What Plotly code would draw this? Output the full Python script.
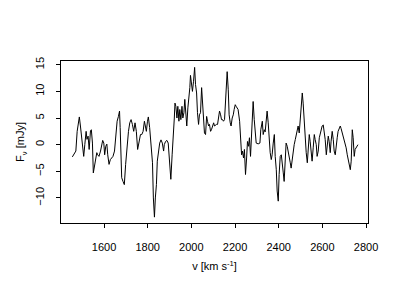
import plotly.graph_objects as go

velocity = [
    1455, 1464, 1471, 1477, 1483, 1487, 1492, 1497, 1501, 1507, 1512, 1518, 1522, 1527, 1532,
    1538, 1542, 1547, 1551, 1556, 1561, 1567, 1571, 1577, 1584, 1590, 1594, 1599, 1603, 1608,
    1613, 1617, 1623, 1629, 1635, 1641, 1648, 1654, 1660, 1666, 1671, 1674, 1677, 1681, 1687,
    1693, 1699, 1706, 1712, 1718, 1724, 1730, 1736, 1742, 1748, 1754, 1761, 1767, 1773, 1779,
    1785, 1790, 1794, 1799, 1803, 1809, 1815, 1822, 1826, 1831, 1835, 1840, 1844, 1849, 1855,
    1861, 1867, 1873, 1876, 1882, 1888, 1894, 1900, 1906, 1912, 1917, 1922, 1925, 1929, 1934,
    1938, 1943, 1947, 1952, 1957, 1961, 1966, 1970, 1975, 1979, 1984, 1989, 1993, 1996, 2001,
    2005, 2010, 2015, 2019, 2024, 2028, 2033, 2037, 2042, 2047, 2051, 2056, 2060, 2065, 2070,
    2074, 2079, 2083, 2088, 2092, 2097, 2102, 2106, 2111, 2115, 2120, 2124, 2129, 2134, 2138,
    2143, 2147, 2152, 2157, 2160, 2164, 2169, 2173, 2178, 2182, 2187, 2192, 2196, 2201, 2205,
    2210, 2214, 2221, 2225, 2230, 2234, 2239, 2243, 2248, 2253, 2257, 2262, 2266, 2271, 2276,
    2280, 2283, 2288, 2292, 2297, 2306, 2314, 2318, 2325, 2329, 2334, 2338, 2343, 2347, 2352,
    2357, 2361, 2366, 2370, 2375, 2380, 2384, 2389, 2393, 2398, 2402, 2407, 2412, 2416, 2421,
    2425, 2430, 2434, 2439, 2444, 2448, 2453, 2457, 2462, 2466, 2471, 2476, 2480, 2485, 2489,
    2494, 2499, 2503, 2508, 2512, 2517, 2521, 2526, 2531, 2535, 2540, 2544, 2549, 2553, 2558,
    2563, 2567, 2572, 2576, 2581, 2586, 2590, 2595, 2599, 2604, 2608, 2613, 2618, 2622, 2627,
    2631, 2636, 2640, 2645, 2650, 2654, 2659, 2663, 2668, 2672, 2677, 2682, 2686, 2691, 2695,
    2700, 2705, 2709, 2714, 2718, 2723, 2728, 2732, 2737, 2741, 2746, 2750, 2755, 2759, 2763,
]

flux = [
    -2.3, -1.7, -1.2, 2.5, 4.4, 5.2, 3.5, 1.3, -0.9, -2.2, 0.0, 2.5, 1.0, 1.6, -0.9,
    2.6, 2.8, 0.3, -5.3, -4.0, -2.8, -1.5, -1.9, -2.2, -1.2, 0.0, 0.8, 0.3, -1.9, -0.3,
    0.1, -1.9, -3.7, -2.8, -2.5, -2.2, -1.2, 2.2, 4.4, 5.3, 6.3, 3.2, -3.1, -6.2, -6.9,
    -7.5, -3.7, 0.0, 2.5, 4.1, 4.7, 3.8, 2.5, 4.1, 2.5, -0.9, 0.3, 1.9, 1.9, 2.5,
    4.4, 3.5, 2.5, 4.4, 5.2, 3.2, 0.6, -3.4, -10.0, -13.6, -10.0, -7.5, -3.1, -1.2, 0.3,
    0.9, 0.3, -1.2, 0.0, 0.6, 0.8, 0.3, -3.1, -6.5, -1.9, 3.2, 5.0, 7.8, 7.2, 5.0,
    7.2, 4.4, 6.6, 4.7, 7.2, 5.0, 6.0, 8.5, 6.0, 3.5, 6.9, 8.8, 10.7, 13.0, 11.0,
    10.0, 11.9, 14.5, 11.3, 9.7, 6.0, 3.8, 5.6, 6.0, 10.7, 7.5, 4.4, 2.2, 1.9, 5.3,
    4.4, 3.5, 3.8, 2.5, 2.8, 3.5, 4.1, 3.5, 3.8, 3.8, 3.8, 4.7, 6.3, 5.6, 4.7,
    4.7, 4.4, 4.7, 8.8, 11.3, 13.7, 10.3, 5.6, 4.1, 3.5, 5.0, 5.6, 6.6, 7.5, 7.2,
    6.9, 6.6, 4.4, 0.3, -1.9, -1.2, -2.5, -0.9, -5.6, -2.5, 0.6, -0.3, 1.3, -2.2, 1.9,
    5.6, 8.1, 4.7, 1.9, 0.3, 0.15, 0.3, 2.8, 4.4, 1.9, 2.8, 2.4, 4.7, 6.3, 4.1,
    0.65, -1.5, -2.8, -1.9, 0.3, 1.9, -2.2, -4.7, -8.7, -10.6, -5.6, -2.2, -1.9, -3.1, -5.3,
    -6.9, -2.8, 0.3, -0.3, -1.2, -2.5, -3.4, -4.4, -2.5, -1.2, 0.0, 0.96, 1.9, 2.8, 3.5,
    2.2, 4.4, 7.2, 9.7, 7.8, 4.4, 0.65, -1.5, -3.4, -0.6, 1.9, 0.65, -2.5, -3.1, -0.6,
    1.9, 0.96, 0.0, -2.2, -1.2, 1.3, 1.9, 2.8, 3.5, 3.7, 2.8, 0.96, -1.9, 0.0, 1.6,
    0.65, -1.5, 0.65, 2.5, 0.96, -1.2, -1.9, 0.0, 1.3, 2.5, 3.2, 3.5, 3.0, 2.2, 1.3,
    0.96, 0.0, -0.6, -1.9, -2.8, -3.7, -4.7, -3.1, 2.8, 1.3, -2.2, -0.9, -0.6, -0.3, 0.0,
]

x_ticks = [1600, 1800, 2000, 2200, 2400, 2600, 2800]
y_ticks = [-10, -5, 0, 5, 10, 15]

FONT = "Liberation Sans"

fig = go.Figure()
fig.add_trace(go.Scatter(
    x=velocity, y=flux, mode="lines",
    line=dict(color="black", width=1),
    showlegend=False, hoverinfo="skip",
))

axis_common = dict(
    showgrid=False, zeroline=False, automargin=False,
    showline=True, linecolor="black", linewidth=1, mirror=True,
    ticks="outside", ticklen=4, tickcolor="black", tickwidth=1,
    tickfont=dict(family=FONT, size=11, color="black"),
)

fig.update_layout(
    width=400, height=300,
    margin=dict(l=61, r=32, t=61, b=77),
    paper_bgcolor="white", plot_bgcolor="white",
    font=dict(family=FONT, size=11, color="black"),
    xaxis=dict(
        range=[1403, 2809], tickvals=x_ticks, ticklabelstandoff=10,
        title=dict(text="v [km s<sup>-1</sup>]", standoff=10,
                   font=dict(family=FONT, size=11, color="black")),
        **axis_common,
    ),
    yaxis=dict(
        range=[-14.7, 15.7], tickvals=y_ticks, tickangle=-90, ticklabelstandoff=8,
        title=dict(text="F<sub>ν</sub> [mJy]", standoff=6,
                   font=dict(family=FONT, size=11, color="black")),
        **axis_common,
    ),
)

fig.write_html("out.html", config={"displayModeBar": False},
               post_script="document.body.style.margin='0';")
